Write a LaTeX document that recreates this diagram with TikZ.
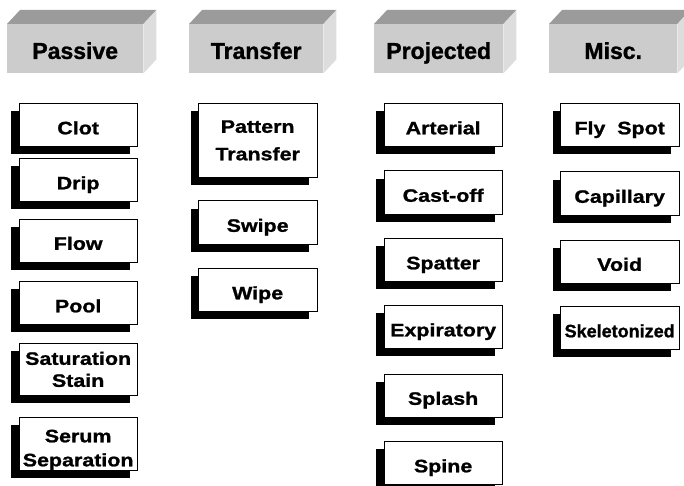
\documentclass[tikz,border=0pt]{standalone}
\usepackage{fontspec}
\usetikzlibrary{shadows}
\newfontfamily\hdrfont[FakeBold=1.2]{Liberation Sans}
\newfontfamily\boxfont[FakeStretch=1.19,FakeBold=1.2]{Liberation Sans}
\definecolor{frontgray}{HTML}{CCCCCC}
\definecolor{topgray}{HTML}{9B9B9B}
\definecolor{sidegray}{HTML}{DDDDDD}
\begin{document}
\begin{tikzpicture}[x=1pt,y=-1pt,
  hdrbox/.style={fill=frontgray, minimum width=#1, minimum height=49pt, inner sep=0pt,
    text height=20.4pt, text depth=0pt, anchor=north west,
    font=\hdrfont\bfseries\fontsize{23}{27}\selectfont},
  itembox/.style={draw=black, line width=0.8pt, fill=white, minimum width=118.5pt,
    minimum height=#1, inner sep=0pt, anchor=north west,
    font=\boxfont\bfseries\fontsize{18}{22}\selectfont,
    drop shadow={fill=black, opacity=1, shadow xshift=-7.5pt, shadow yshift=-8pt}},
  onebox/.style={itembox=43pt, text height=18.8pt, text depth=0pt},
  twobox/.style={itembox=#1, align=center},
]
\useasboundingbox (0,0) rectangle (684,486);

% headers
\node[hdrbox=136pt] (hpas) at (7,24) {Passive};
\node[hdrbox=134pt] (htra) at (189,24) {Transfer};
\node[hdrbox=129pt] (hpro) at (374,24) {Projected};
\node[hdrbox=128pt] (hmis) at (549,24) {Misc.};
\foreach \h in {hpas,htra,hpro,hmis}{
  \fill[topgray] (\h.north west) -- ++(13,-14) -- ([shift={(13,-14)}]\h.north east)
    -- (\h.north east) -- cycle;
  \fill[sidegray] (\h.north east) -- ([shift={(13,-14)}]\h.north east)
    -- ([shift={(13,-14)}]\h.south east) -- (\h.south east) -- cycle;
}

% Passive
\node[onebox] (clot) at (18.5,103) {Clot};
\node[onebox] (drip) at (18.5,158) {Drip};
\node[onebox] (flow) at (18.5,218.5) {Flow};
\node[onebox] (pool) at (18.5,281) {Pool};
\node[twobox=52pt] (sat) at (18.5,343) {Saturation\\Stain};
\node[itembox=53pt] (serum) at (18.5,417)
  {\raisebox{-6pt}[\height][\depth]{\begin{tabular}{@{}c@{}}Serum\\[2pt]Separation\end{tabular}}};

% Transfer
\node[twobox=74pt] (pattern) at (198,103) {Pattern\\[5.5pt]Transfer};
\node[onebox] (swipe) at (198,200.5) {Swipe};
\node[onebox] (wipe) at (198,268) {Wipe};

% Projected
\node[onebox] (arterial) at (383.5,103) {Arterial};
\node[onebox] (castoff) at (383.5,170.5) {Cast-off};
\node[onebox] (spatter) at (383.5,238) {Spatter};
\node[onebox] (expir) at (383.5,305) {Expiratory};
\node[onebox] (splash) at (383.5,373.5) {Splash};
\node[onebox] (spine) at (383.5,441) {Spine};

% Misc
\node[onebox] (flyspot) at (560,103) {Fly~~Spot};
\node[onebox] (capil) at (560,171.5) {Capillary};
\node[onebox] (void) at (560,239.5) {Void};
\node[onebox, font=\hdrfont\bfseries\fontsize{18}{22}\selectfont] (skel) at (560,306) {Skeletonized};
\end{tikzpicture}
\end{document}
